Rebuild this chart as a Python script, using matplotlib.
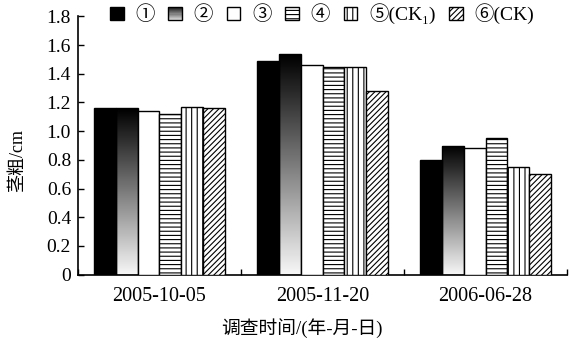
import matplotlib.pyplot as plt
import numpy as np
from matplotlib.patches import Rectangle
from matplotlib.legend_handler import HandlerBase

plt.rcParams['font.family'] = ['Liberation Serif', 'Noto Sans CJK SC', 'DejaVu Sans']
plt.rcParams['hatch.linewidth'] = 0.8

# data (stem diameter, cm)
dates = ['2005-10-05', '2005-11-20', '2006-06-28']
labels = ['①', '②', '③', '④', '⑤(CK₁)', '⑥(CK)']
t1 = [1.16, 1.49, 0.80]
t2 = [1.16, 1.54, 0.90]
t3 = [1.14, 1.46, 0.88]
t4 = [1.12, 1.45, 0.95]
t5 = [1.17, 1.45, 0.75]
t6 = [1.16, 1.28, 0.70]
yticks = [0, 0.2, 0.4, 0.6, 0.8, 1.0, 1.2, 1.4, 1.6, 1.8]
ytick_labels = ['0', '0.2', '0.4', '0.6', '0.8', '1.0', '1.2', '1.4', '1.6', '1.8']

series = [t1, t2, t3, t4, t5, t6]
styles = [dict(facecolor='black', hatch=None),
          dict(facecolor='none', hatch=None),   # gradient, filled below
          dict(facecolor='white', hatch=None),
          dict(facecolor='white', hatch='----'),
          dict(facecolor='white', hatch='|||'),
          dict(facecolor='white', hatch='//////')]

grad = np.linspace(0.97, 0.0, 256)[:, None]


class GradientHandler(HandlerBase):
    def legend_artist(self, legend, orig_handle, fontsize, handlebox):
        x0, y0 = handlebox.xdescent, handlebox.ydescent
        w, h = handlebox.width, handlebox.height
        n = 12
        for i in range(n):
            g = 0.85 - 0.75 * i / (n - 1)
            r = Rectangle((x0, y0 + h * i / n), w, h / n + 0.05,
                          facecolor=str(g), edgecolor='none',
                          transform=handlebox.get_transform())
            handlebox.add_artist(r)
        frame = Rectangle((x0, y0), w, h, facecolor='none', edgecolor='black',
                          lw=1.0, transform=handlebox.get_transform())
        handlebox.add_artist(frame)
        return frame


fig = plt.figure(figsize=(5.71, 3.40), dpi=100)
ax = fig.add_axes([0.1366, 0.1926, 0.9930 - 0.1366, 0.9515 - 0.1926])

x = np.arange(len(dates)) + 0.5
width = 0.134
handles = []
for i, (vals, st) in enumerate(zip(series, styles)):
    pos = x + (i - 2.5) * width
    bars = ax.bar(pos, vals, width, facecolor=st['facecolor'], edgecolor='black',
                  hatch=st['hatch'], linewidth=1.0, zorder=3)
    if i == 1:
        for b in bars:
            im = ax.imshow(grad, extent=[b.get_x(), b.get_x() + b.get_width(), 0, b.get_height()],
                           cmap='gray', vmin=0, vmax=1, aspect='auto', origin='lower', zorder=2.5)
            im.set_clip_path(b)
    handles.append(bars[0])

ax.set_xlim(0, 3)
ax.set_ylim(0, 1.8)
ax.set_yticks(yticks)
ax.set_yticklabels(ytick_labels, fontsize=14)
ax.set_xticks([0, 1, 2, 3])
ax.set_xticklabels([])
ax.set_xticks(x, minor=True)
ax.set_xticklabels(dates, minor=True, fontsize=14.5)
ax.tick_params(axis='x', which='major', direction='in', length=4, width=1)
ax.tick_params(axis='x', which='minor', length=0, pad=9)
ax.tick_params(axis='y', direction='in', length=4, width=1, pad=5)
for s in ['top', 'right']:
    ax.spines[s].set_visible(False)
for s in ['left', 'bottom']:
    ax.spines[s].set_linewidth(1.2)

ax.set_ylabel('茎粗/cm', fontsize=13)
ax.yaxis.set_label_coords(-0.106, 0.44)
ax.set_xlabel('调查时间/(年-月-日)', fontsize=13.5)
ax.xaxis.set_label_coords(0.457, -0.17)

fig.legend(handles, labels, loc='center', bbox_to_anchor=(0.564, 0.959), ncol=6,
           frameon=False, fontsize=14, handlelength=0.7, handleheight=0.7,
           handletextpad=0.6, columnspacing=0.7, borderpad=0,
           handler_map={handles[1]: GradientHandler()})

fig.savefig('out.png', dpi=100)
